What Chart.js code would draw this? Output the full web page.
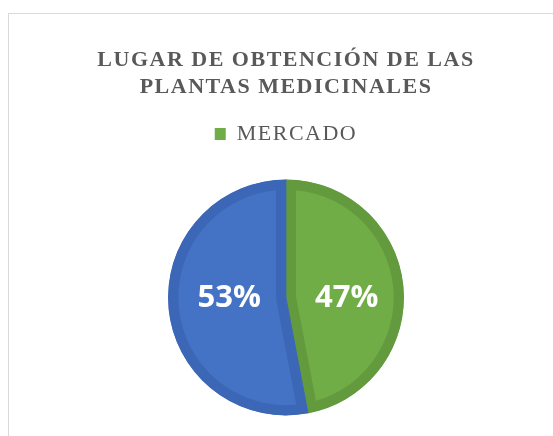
<!DOCTYPE html>
<html>
<head>
<meta charset="utf-8">
<script src="https://cdn.jsdelivr.net/npm/chart.js@4/dist/chart.umd.min.js"></script>
<style>
    body { margin: 0; background: #fff; overflow: hidden; }
    #frame {
        position: absolute; left: 8px; top: 13px;
        border-left: 1px solid #d9d9d9; border-top: 1px solid #d9d9d9;
    }
    #chart { display: block; }
</style>
</head>
<body>
<div id="frame"><canvas id="chart" width="554" height="426"></canvas></div>
<script>
const labels = ['MERCADO', 'OTROS'];
const values = [47, 53];
const fillColors = ['#70ad47', '#4472c4'];
const edgeColors = ['#629a3d', '#3b67b6'];
const titleLines = ['LUGAR DE OBTENCIÓN DE LAS', 'PLANTAS MEDICINALES'];

// espacement des lettres pour le titre et la légende
const spacing = {
    id: 'spacing',
    beforeLayout(chart) { chart.ctx.letterSpacing = '1.5px'; },
    beforeDraw(chart) { chart.ctx.letterSpacing = '1.5px'; }
};

// pourcentages en blanc sur chaque secteur
const sliceLabels = {
    id: 'sliceLabels',
    afterDatasetsDraw(chart) {
        const ctx = chart.ctx;
        const meta = chart.getDatasetMeta(0);
        const total = values.reduce((a, b) => a + b, 0);
        ctx.save();
        ctx.letterSpacing = '0px';
        ctx.fillStyle = '#ffffff';
        ctx.font = 'bold 31px "Open Sans"';
        ctx.textAlign = 'center';
        ctx.textBaseline = 'middle';
        meta.data.forEach((arc, i) => {
            const p = arc.tooltipPosition();
            ctx.fillText(Math.round(values[i] / total * 100) + '%', p.x + 2, arc.y + 1);
        });
        ctx.restore();
    }
};

new Chart(document.getElementById('chart'), {
    type: 'pie',
    data: {
        labels: labels,
        datasets: [{
            data: values,
            backgroundColor: fillColors,
            borderColor: edgeColors,
            borderWidth: 10,
            borderAlign: 'inner',
            radius: 118
        }]
    },
    options: {
        responsive: false,
        animation: false,
        layout: { padding: 0 },
        plugins: {
            title: {
                display: true,
                text: titleLines,
                color: '#595959',
                font: { family: '"Liberation Serif"', size: 22, weight: 'bold', lineHeight: 1.227 },
                padding: { top: 33, bottom: 12 }
            },
            legend: {
                position: 'top',
                labels: {
                    color: '#595959',
                    font: { family: '"Liberation Serif"', size: 22 },
                    boxWidth: 11,
                    boxHeight: 12,
                    generateLabels: chart => Chart.overrides.pie.plugins.legend.labels
                        .generateLabels(chart)
                        .filter(item => item.index === 0)
                        .map(item => ({ ...item, lineWidth: 0 }))
                }
            },
            tooltip: { enabled: false }
        }
    },
    plugins: [spacing, sliceLabels]
});
</script>
</body>
</html>
